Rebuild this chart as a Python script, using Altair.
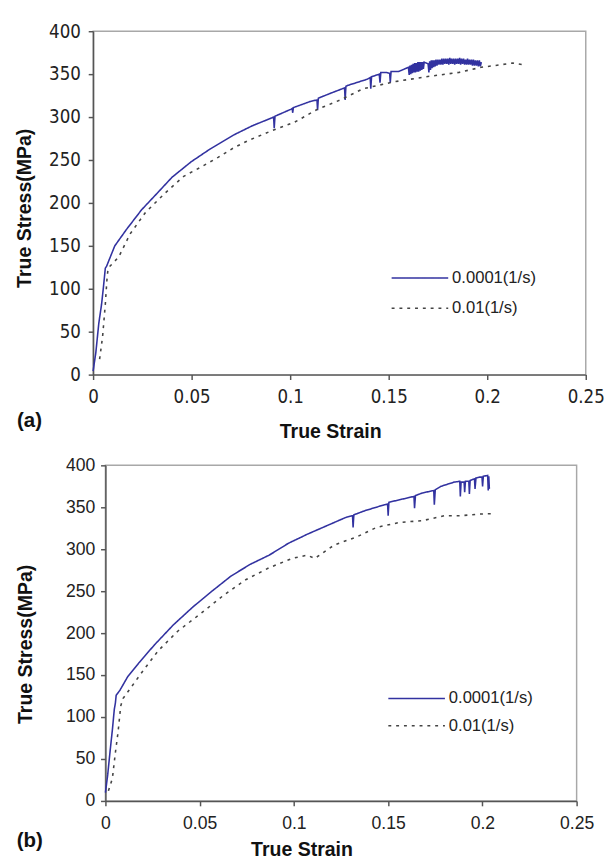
import altair as alt
import pandas as pd

series_names = ["0.0001(1/s)", "0.01(1/s)"]
panel_labels = ["(a)", "(b)"]
x_ticks = [0, 0.05, 0.1, 0.15, 0.2, 0.25]
y_ticks = [0, 50, 100, 150, 200, 250, 300, 350, 400]

# ---- panel (a) ----
a_slow_strain = [
    0.0, 0.0014, 0.0029, 0.0043, 0.0052, 0.0062, 0.0068, 0.011, 0.0169, 0.0246,
    0.0324, 0.0401, 0.0498, 0.0595, 0.0712, 0.0809, 0.0906, 0.0916, 0.0919, 0.0923,
    0.1003, 0.1010, 0.1013, 0.1016, 0.110, 0.1136, 0.1139, 0.1143, 0.1197, 0.1276,
    0.1279, 0.1283, 0.1294, 0.139, 0.1406, 0.1409, 0.1413, 0.1452, 0.1456, 0.1460,
    0.149, 0.1505, 0.1508, 0.1512, 0.155, 0.158,
    0.1600, 0.1604, 0.1608, 0.1612, 0.1616, 0.1620, 0.1624, 0.1628, 0.1632, 0.1636,
    0.1640, 0.1644, 0.1648, 0.1652, 0.1656, 0.1660, 0.1664, 0.1668, 0.1672, 0.1676,
    0.1680,
    0.1700, 0.1704, 0.1708, 0.1712, 0.1716, 0.1720, 0.1724, 0.1728, 0.1732, 0.1736,
    0.1740,
    0.1745, 0.1750, 0.1755, 0.1760, 0.1765, 0.1770, 0.1775, 0.1780, 0.1785, 0.1790,
    0.1795, 0.1800, 0.1805, 0.1810, 0.1815, 0.1820, 0.1825, 0.1830, 0.1835, 0.1840,
    0.1845, 0.1850, 0.1855, 0.1860, 0.1865, 0.1870, 0.1875, 0.1880, 0.1885, 0.1890,
    0.1895, 0.1900, 0.1905, 0.1910, 0.1915, 0.1920, 0.1925, 0.1930, 0.1935, 0.1940,
    0.1945, 0.1950, 0.1955, 0.1960, 0.1965, 0.1970,
]
a_slow_stress = [
    4, 26, 60, 82, 101, 124, 126, 150, 169, 192,
    211, 230, 248, 263, 279, 290, 299, 300, 287, 301,
    309, 310, 305, 311, 318, 320, 308, 322, 327, 334,
    320, 336, 337, 344, 346, 333, 347, 350, 340, 352,
    352, 351, 340, 353, 353, 356,
    358, 349, 360, 350, 361, 351, 362, 352, 363, 352,
    363, 353, 364, 353, 364, 354, 364, 355, 364, 356,
    364,
    362, 352, 365, 355, 366, 357, 366, 358, 366, 359,
    367,
    360, 367, 361, 367, 361, 368, 361, 368, 362, 368,
    362, 368, 361, 369, 362, 368, 362, 368, 361, 368,
    362, 368, 362, 369, 361, 368, 362, 368, 361, 367,
    361, 368, 361, 367, 361, 367, 360, 367, 360, 366,
    360, 366, 359, 366, 359, 364,
]
a_fast_strain = [
    0.0033, 0.0048, 0.0062, 0.0070, 0.0076, 0.013, 0.0188, 0.0266, 0.0363, 0.046,
    0.0557, 0.0634, 0.0712, 0.079, 0.0906, 0.1022, 0.1138, 0.1255, 0.137, 0.1525,
    0.169, 0.1856, 0.197, 0.207, 0.213, 0.218,
]
a_fast_stress = [
    18, 44, 82, 110, 124, 137, 164, 189, 211, 231,
    243, 253, 264, 273, 284, 294, 309, 320, 333, 341,
    347, 352, 358, 361, 363, 361,
]

# ---- panel (b) ----
b_slow_strain = [
    0.0, 0.0012, 0.0026, 0.0037, 0.0047, 0.0053, 0.0057, 0.0077, 0.0118, 0.0179,
    0.026, 0.0361, 0.0463, 0.0565, 0.0666, 0.0768, 0.0869, 0.097, 0.1072, 0.1174,
    0.1276, 0.1311, 0.1314, 0.1318, 0.1377, 0.148, 0.1497, 0.1500, 0.1504, 0.158,
    0.1637, 0.1640, 0.1645, 0.168, 0.1742, 0.1745, 0.1750, 0.178, 0.185, 0.1880,
    0.1883, 0.1887, 0.1903, 0.1906, 0.1910, 0.1928, 0.1931, 0.1935, 0.1958, 0.1961,
    0.1966, 0.1986, 0.1998, 0.2001, 0.2005, 0.2028, 0.2031, 0.2034, 0.2037,
]
b_slow_stress = [
    10, 31, 62, 85, 109, 117, 126, 132, 148, 165,
    186, 210, 231, 250, 268, 282, 293, 307, 318, 328,
    338, 340, 326, 341, 346, 353, 354, 340, 356, 360,
    363, 349, 364, 367, 370, 353, 371, 375, 380, 381,
    363, 380, 380, 368, 381, 381, 366, 382, 384, 372,
    385, 386, 386, 375, 387, 388, 370, 387, 372,
]
b_fast_strain = [
    0.0016, 0.0037, 0.0053, 0.0067, 0.0081, 0.0093, 0.0138, 0.0199, 0.028, 0.0382,
    0.0504, 0.0626, 0.0747, 0.0869, 0.099, 0.107, 0.111, 0.1214, 0.1336, 0.1438,
    0.156, 0.168, 0.18, 0.1885, 0.1986, 0.2067,
]
b_fast_stress = [
    12, 27, 58, 82, 113, 122, 136, 155, 179, 202,
    223, 245, 264, 278, 289, 293, 289, 305, 315, 326,
    332, 334, 340, 340, 342, 342.5,
]

BLUE = "#3232a0"
GRAY = "#444444"
AXIS_C = "#555555"


def make_df(sx, sy, fx, fy):
    assert len(sx) == len(sy) and len(fx) == len(fy)
    rows = []
    for i, (x, y) in enumerate(zip(sx, sy)):
        rows.append({"strain": x, "stress": y, "rate": series_names[0], "ord": i})
    for i, (x, y) in enumerate(zip(fx, fy)):
        rows.append({"strain": x, "stress": y, "rate": series_names[1], "ord": i})
    return pd.DataFrame(rows)


def panel(df, label, w, h, tick_font, tick_size, lab_pad_x, lab_pad_y,
          xt_pad, yt_pad, title_x, title_y, leg_x, leg_y, row_pad, lab_x, lab_y,
          spacer_x=None):
    legend = alt.Legend(
        title=None, orient="none", legendX=leg_x, legendY=leg_y,
        symbolType="stroke", symbolSize=3364, symbolStrokeWidth=1.6,
        clipHeight=16, rowPadding=row_pad, labelOffset=3,
        labelFont="Liberation Sans", labelFontSize=17, labelColor="#222",
        padding=0, symbolOpacity=1,
    )
    xaxis = alt.Axis(
        values=x_ticks, format="~g", grid=False, labelFlush=False, labelOverlap=False,
        labelFont=tick_font, labelFontSize=tick_size, labelColor="#222",
        labelPadding=lab_pad_x, tickSize=5, tickColor=AXIS_C, tickWidth=1.5,
        domainColor=AXIS_C, domainWidth=1.5,
        title="True Strain", titleFont="Liberation Sans", titleFontSize=20,
        titleFontWeight="bold", titleColor="#111", titlePadding=xt_pad, titleX=title_x,
    )
    yaxis = alt.Axis(
        values=y_ticks, grid=False, labelFlush=False, labelOverlap=False,
        labelFont=tick_font, labelFontSize=tick_size, labelColor="#222",
        labelPadding=lab_pad_y, tickSize=5, tickColor=AXIS_C, tickWidth=1.5,
        domainColor=AXIS_C, domainWidth=1.5,
        title="True Stress(MPa)", titleFont="Liberation Sans", titleFontSize=20,
        titleFontWeight="bold", titleColor="#111", titlePadding=yt_pad, titleY=title_y,
    )
    lines = alt.Chart(df).mark_line(strokeWidth=1.6).encode(
        x=alt.X("strain:Q", scale=alt.Scale(domain=[0, 0.25], nice=False), axis=xaxis),
        y=alt.Y("stress:Q", scale=alt.Scale(domain=[0, 400], nice=False), axis=yaxis),
        color=alt.Color("rate:N", scale=alt.Scale(domain=series_names, range=[BLUE, GRAY]),
                        legend=legend),
        strokeDash=alt.StrokeDash("rate:N",
                                  scale=alt.Scale(domain=series_names, range=[[1, 0], [3, 5]]),
                                  legend=legend),
        order="ord:Q",
    )
    lab = alt.Chart(pd.DataFrame({"label": [label]})).mark_text(
        align="left", baseline="alphabetic", font="Liberation Sans",
        fontSize=21, fontWeight="bold", color="#111",
    ).encode(x=alt.value(lab_x), y=alt.value(lab_y), text="label:N")
    layers = [lines, lab]
    if spacer_x is not None:
        # invisible layout spacer that widens the panel's bounds on the right
        spacer = alt.Chart(pd.DataFrame({"label": ["."]})).mark_text(
            align="left", fontSize=10, opacity=0,
        ).encode(x=alt.value(spacer_x), y=alt.value(h), text="label:N")
        layers.append(spacer)
    return alt.layer(*layers).properties(width=w, height=h)


top = panel(make_df(a_slow_strain, a_slow_stress, a_fast_strain, a_fast_stress),
            panel_labels[0], 505, 352,
            "Liberation Sans Narrow, DejaVu Sans Condensed, sans-serif", 19,
            9, 8, 15, 15, 243, 181, 305, 245, 14, -78, 406, spacer_x=523)
bottom = panel(make_df(b_slow_strain, b_slow_stress, b_fast_strain, b_fast_stress),
               panel_labels[1], 483, 344,
               "Liberation Sans, Arial, sans-serif", 18,
               9, 6, 8, 31, 201, 183, 289, 231, 11, -91, 391)

chart = alt.concat(top, bottom, columns=1, center=True, spacing=14).resolve_scale(
    color="independent", strokeDash="independent", x="independent", y="independent"
).resolve_legend(color="independent", strokeDash="independent").properties(
    padding={"left": 5, "top": 3, "right": 0, "bottom": 0}
).configure_view(stroke="#a8a8a8", strokeWidth=1.5)

chart.save("out.html", embed_options={"renderer": "svg", "actions": False})
